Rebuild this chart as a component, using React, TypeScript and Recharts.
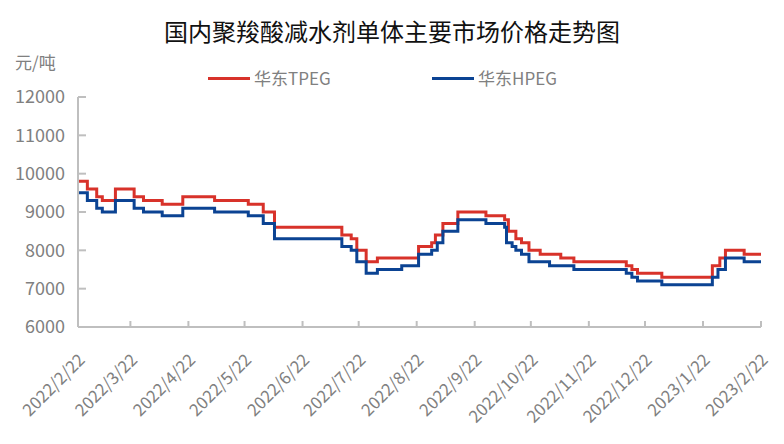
import React from "react";
import { LineChart, Line, XAxis, YAxis } from "recharts";

const TITLE = "国内聚羧酸减水剂单体主要市场价格走势图";
const UNIT = "元/吨";

// day offsets from 2022/2/22
const monthTicks = [0, 28, 59, 89, 120, 150, 181, 212, 242, 273, 303, 334, 365];
const monthLabels = [
  "2022/2/22", "2022/3/22", "2022/4/22", "2022/5/22", "2022/6/22", "2022/7/22",
  "2022/8/22", "2022/9/22", "2022/10/22", "2022/11/22", "2022/12/22", "2023/1/22", "2023/2/22",
];
const yTicks = [6000, 7000, 8000, 9000, 10000, 11000, 12000];

// 华东TPEG: days where price changes, and the new price
const tpegDays = [0, 5, 10, 13, 20, 30, 35, 45, 56, 73, 91, 99, 105, 141, 146, 149, 154, 160, 182, 189, 191, 195, 203, 218, 228, 230, 234, 237, 241, 247, 258, 265, 293, 296, 299, 312, 339, 343, 346, 356, 365];
const tpegPrices = [9800, 9600, 9400, 9300, 9600, 9400, 9300, 9200, 9400, 9300, 9200, 9000, 8600, 8400, 8300, 8000, 7700, 7800, 8100, 8200, 8400, 8700, 9000, 8900, 8800, 8500, 8300, 8200, 8000, 7900, 7800, 7700, 7600, 7500, 7400, 7300, 7600, 7800, 8000, 7900, 7900];

// 华东HPEG
const hpegDays = [0, 5, 10, 13, 20, 30, 35, 45, 56, 73, 91, 99, 105, 141, 146, 149, 154, 160, 173, 182, 189, 192, 195, 203, 218, 228, 229, 232, 234, 237, 241, 252, 265, 293, 296, 299, 312, 339, 342, 346, 356, 365];
const hpegPrices = [9500, 9300, 9100, 9000, 9300, 9100, 9000, 8900, 9100, 9000, 8900, 8700, 8300, 8100, 8000, 7700, 7400, 7500, 7600, 7900, 8000, 8200, 8500, 8800, 8700, 8600, 8200, 8100, 8000, 7900, 7700, 7600, 7500, 7400, 7300, 7200, 7100, 7300, 7500, 7800, 7700, 7700];

const RED = "#d8322a";
const BLUE = "#0b4393";
const GREY = "#808080";
const AXIS = "#bfbfbf";
const FONT = "'Noto Sans CJK SC', 'Noto Sans', sans-serif";

const tpegData = tpegDays.map((d, i) => ({ day: d, v: tpegPrices[i] }));
const hpegData = hpegDays.map((d, i) => ({ day: d, v: hpegPrices[i] }));

const labelFor = (d: number) => monthLabels[monthTicks.indexOf(d)] ?? "";

const DateTick = ({ x, y, payload }: any) => (
  <text
    x={x + 8}
    y={y}
    transform={`rotate(-45, ${x + 8}, ${y})`}
    textAnchor="end"
    fill={GREY}
    fontSize={17}
    fontFamily={FONT}
  >
    {labelFor(payload.value)}
  </text>
);

const LegendBox = () => (
  <div style={{ position: "absolute", left: 0, top: 68, width: 784, height: 20, fontFamily: FONT, fontSize: 17, color: GREY }}>
    <div style={{ position: "absolute", left: 208, top: 9, width: 42, height: 3, background: RED }} />
    <span style={{ position: "absolute", left: 254, top: -3 }}>华东TPEG</span>
    <div style={{ position: "absolute", left: 432, top: 9, width: 42, height: 3, background: BLUE }} />
    <span style={{ position: "absolute", left: 478, top: -3 }}>华东HPEG</span>
  </div>
);

export default function App() {
  return (
    <div style={{ position: "absolute", left: 0, top: 0, width: 784, height: 444, background: "#fff" }}>
      <div
        style={{
          position: "absolute", left: 0, top: 13, width: 784, textAlign: "center",
          fontFamily: FONT, fontSize: 24, color: "#111",
        }}
      >
        {TITLE}
      </div>
      <div style={{ position: "absolute", left: 15, top: 49, fontFamily: FONT, fontSize: 17, color: GREY }}>
        {UNIT}
      </div>
      <LegendBox />
      <LineChart
        width={784}
        height={444}
        margin={{ top: 97, right: 23, bottom: 17, left: 0 }}
      >
        <XAxis
          dataKey="day"
          type="number"
          domain={[0, 365]}
          ticks={monthTicks}
          interval={0}
          height={100}
          allowDuplicatedCategory={false}
          axisLine={{ stroke: AXIS, strokeWidth: 2 }}
          tickLine={{ stroke: AXIS, strokeWidth: 2 }}
          tickSize={-6}
          tickMargin={40}
          tick={<DateTick />}
        />
        <YAxis
          type="number"
          domain={[6000, 12000]}
          ticks={yTicks}
          interval={0}
          width={78}
          axisLine={{ stroke: AXIS, strokeWidth: 2 }}
          tickLine={{ stroke: AXIS, strokeWidth: 2 }}
          tickSize={-8}
          tickMargin={21}
          tick={{ fill: GREY, fontSize: 18, fontFamily: FONT }}
        />
        <Line
          data={tpegData}
          dataKey="v"
          name="华东TPEG"
          type="stepAfter"
          stroke={RED}
          strokeWidth={3}
          dot={false}
          isAnimationActive={false}
        />
        <Line
          data={hpegData}
          dataKey="v"
          name="华东HPEG"
          type="stepAfter"
          stroke={BLUE}
          strokeWidth={3}
          dot={false}
          isAnimationActive={false}
        />
      </LineChart>
    </div>
  );
}
